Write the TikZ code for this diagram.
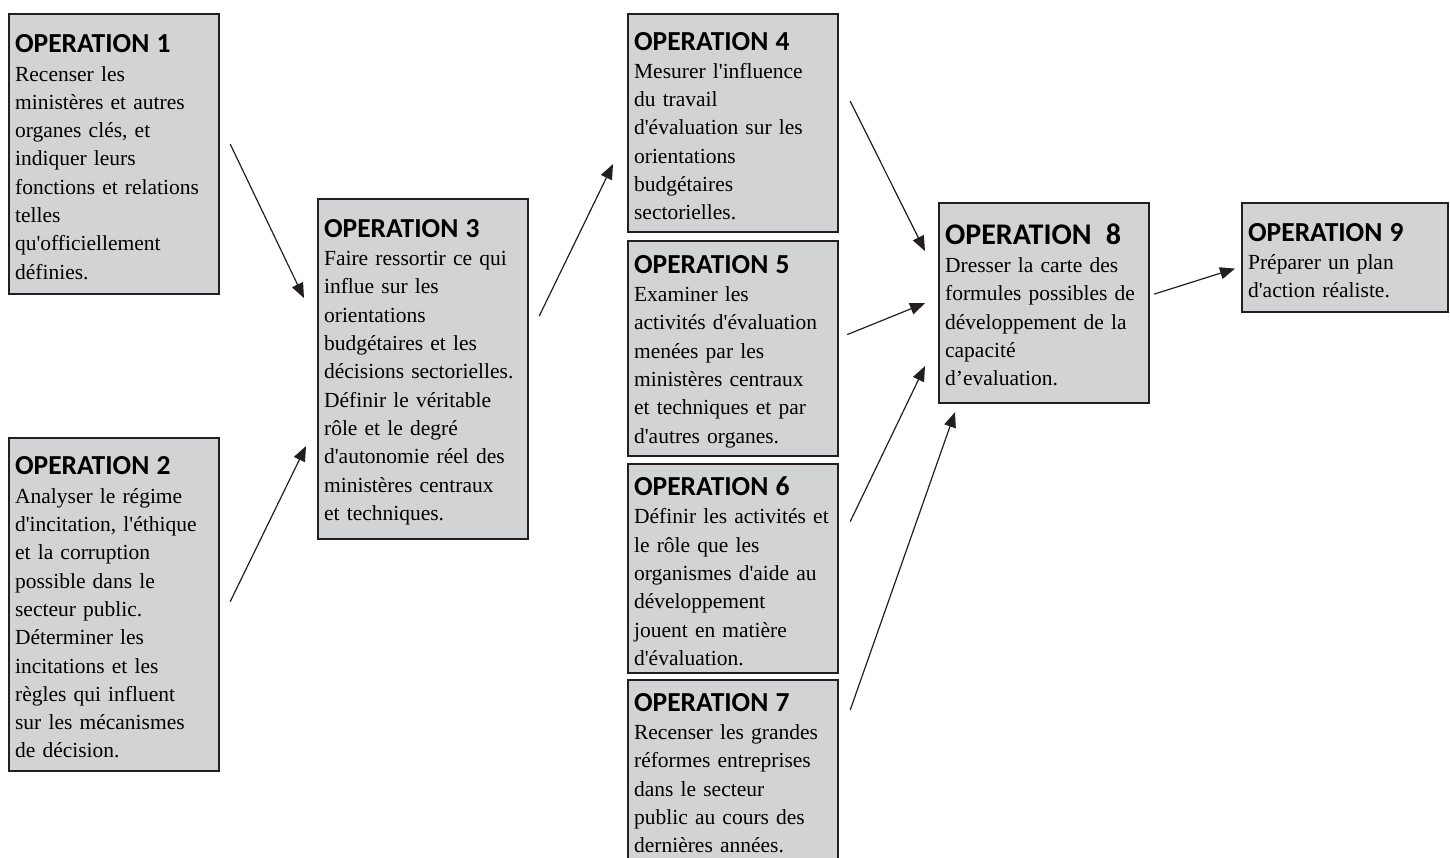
\documentclass[tikz,border=0pt]{standalone}
\usepackage{fontspec}
\setmainfont{Liberation Serif}[Ligatures=TeXOff]
\newfontfamily\headfont{Carlito}
\usepackage{xcolor}
\usepackage{tikz}
\usetikzlibrary{arrows.meta}

\definecolor{boxgray}{RGB}{210,211,213}
\definecolor{boxline}{RGB}{35,31,32}

\tikzset{
    opbox/.style={draw=boxline, line width=2.2pt, fill=boxgray, anchor=north west,
        text width=198pt, inner xsep=6pt, inner ysep=7pt, align=left,
        font=\fontsize{21.5}{28.3}\selectfont},
    link/.style={line width=1.2pt, draw=boxline, -{Triangle[length=15pt,width=12pt]}}
}
\newcommand{\ophead}[1]{{\headfont\bfseries\fontsize{27.5}{28.3}\selectfont\rule{0pt}{24pt}#1}}
\newcommand{\opheadbig}[1]{{\headfont\bfseries\fontsize{30}{28.3}\selectfont\rule{0pt}{24pt}#1}}

\begin{document}
\begin{tikzpicture}[x=1pt,y=-1pt]

        \useasboundingbox (0,0) rectangle (1450,857);
        \clip (0,0) rectangle (1450,857);

        % First column
        \node[opbox, minimum height=280pt] (op1) at (8,13) {\ophead{OPERATION 1}\\
            Recenser les\\ ministères et autres\\ organes clés, et\\ indiquer leurs\\
            fonctions et relations\\ telles\\ qu'officiellement\\ définies.};
        \node[opbox, minimum height=333pt] (op2) at (8,437) {\ophead{OPERATION 2}\\
            Analyser le régime\\ d'incitation, l'éthique\\ et la corruption\\ possible dans le\\
            secteur public.\\ Déterminer les\\ incitations et les\\ règles qui influent\\
            sur les mécanismes\\ de décision.};

        % Second column
        \node[opbox, minimum height=340pt] (op3) at (317,198) {\ophead{OPERATION 3}\\
            Faire ressortir ce qui\\ influe sur les\\ orientations\\ budgétaires et les\\
            décisions sectorielles.\\ Définir le véritable\\ rôle et le degré\\
            d'autonomie réel des\\ ministères centraux\\ et techniques.};

        % Third column
        \node[opbox, minimum height=218pt] (op4) at (627,13) {\ophead{OPERATION 4}\\
            Mesurer l'influence\\ du travail\\ d'évaluation sur les\\ orientations\\
            budgétaires\\ sectorielles.};
        \node[opbox, minimum height=215pt] (op5) at (627,240) {\ophead{OPERATION 5}\\
            Examiner les\\ activités d'évaluation\\ menées par les\\ ministères centraux\\
            et techniques et par\\ d'autres organes.};
        \node[opbox, minimum height=209pt] (op6) at (627,463) {\ophead{OPERATION 6}\\
            Définir les activités et\\ le rôle que les\\ organismes d'aide au\\
            développement\\ jouent en matière\\ d'évaluation.};
        \node[opbox] (op7) at (627,679) {\ophead{OPERATION 7}\\
            Recenser les grandes\\ réformes entreprises\\ dans le secteur\\
            public au cours des\\ dernières années.\rule[-40pt]{0pt}{40pt}};

        % Last two steps
        \node[opbox, minimum height=200pt] (op8) at (938,202) {\opheadbig{OPERATION\ \ 8}\\
            Dresser la carte des\\ formules possibles de\\ développement de la\\
            capacité\\ d’evaluation.};
        \node[opbox, text width=194pt, minimum height=109pt] (op9) at (1241,202) {\ophead{OPERATION 9}\\
            Préparer un plan\\ d'action réaliste.};

        % Arrows
        \draw[link] ([xshift=10pt,yshift=10pt]op1.east) -- ([xshift=-13pt,yshift=71pt]op3.west);
        \draw[link] ([xshift=10pt,yshift=3pt]op2.east) -- ([xshift=-11pt,yshift=-77pt]op3.west);
        \draw[link] ([xshift=10pt,yshift=53pt]op3.east) -- ([xshift=-14pt,yshift=-41pt]op4.west);
        \draw[link] ([xshift=11pt,yshift=22pt]op4.east) -- ([xshift=-13pt,yshift=52pt]op8.west);
        \draw[link] ([xshift=8pt,yshift=14pt]op5.east) -- ([xshift=-13pt]op8.west);
        \draw[link] ([xshift=11pt,yshift=47pt]op6.east) -- ([xshift=-13pt,yshift=-63pt]op8.west);
        \draw[link] ([xshift=11pt,yshift=-31pt]op7.north east) -- ([xshift=17pt,yshift=-8pt]op8.south west);
        \draw[link] ([xshift=4pt,yshift=9pt]op8.east) -- ([xshift=-6pt,yshift=-11pt]op9.west);

\end{tikzpicture}
\end{document}
